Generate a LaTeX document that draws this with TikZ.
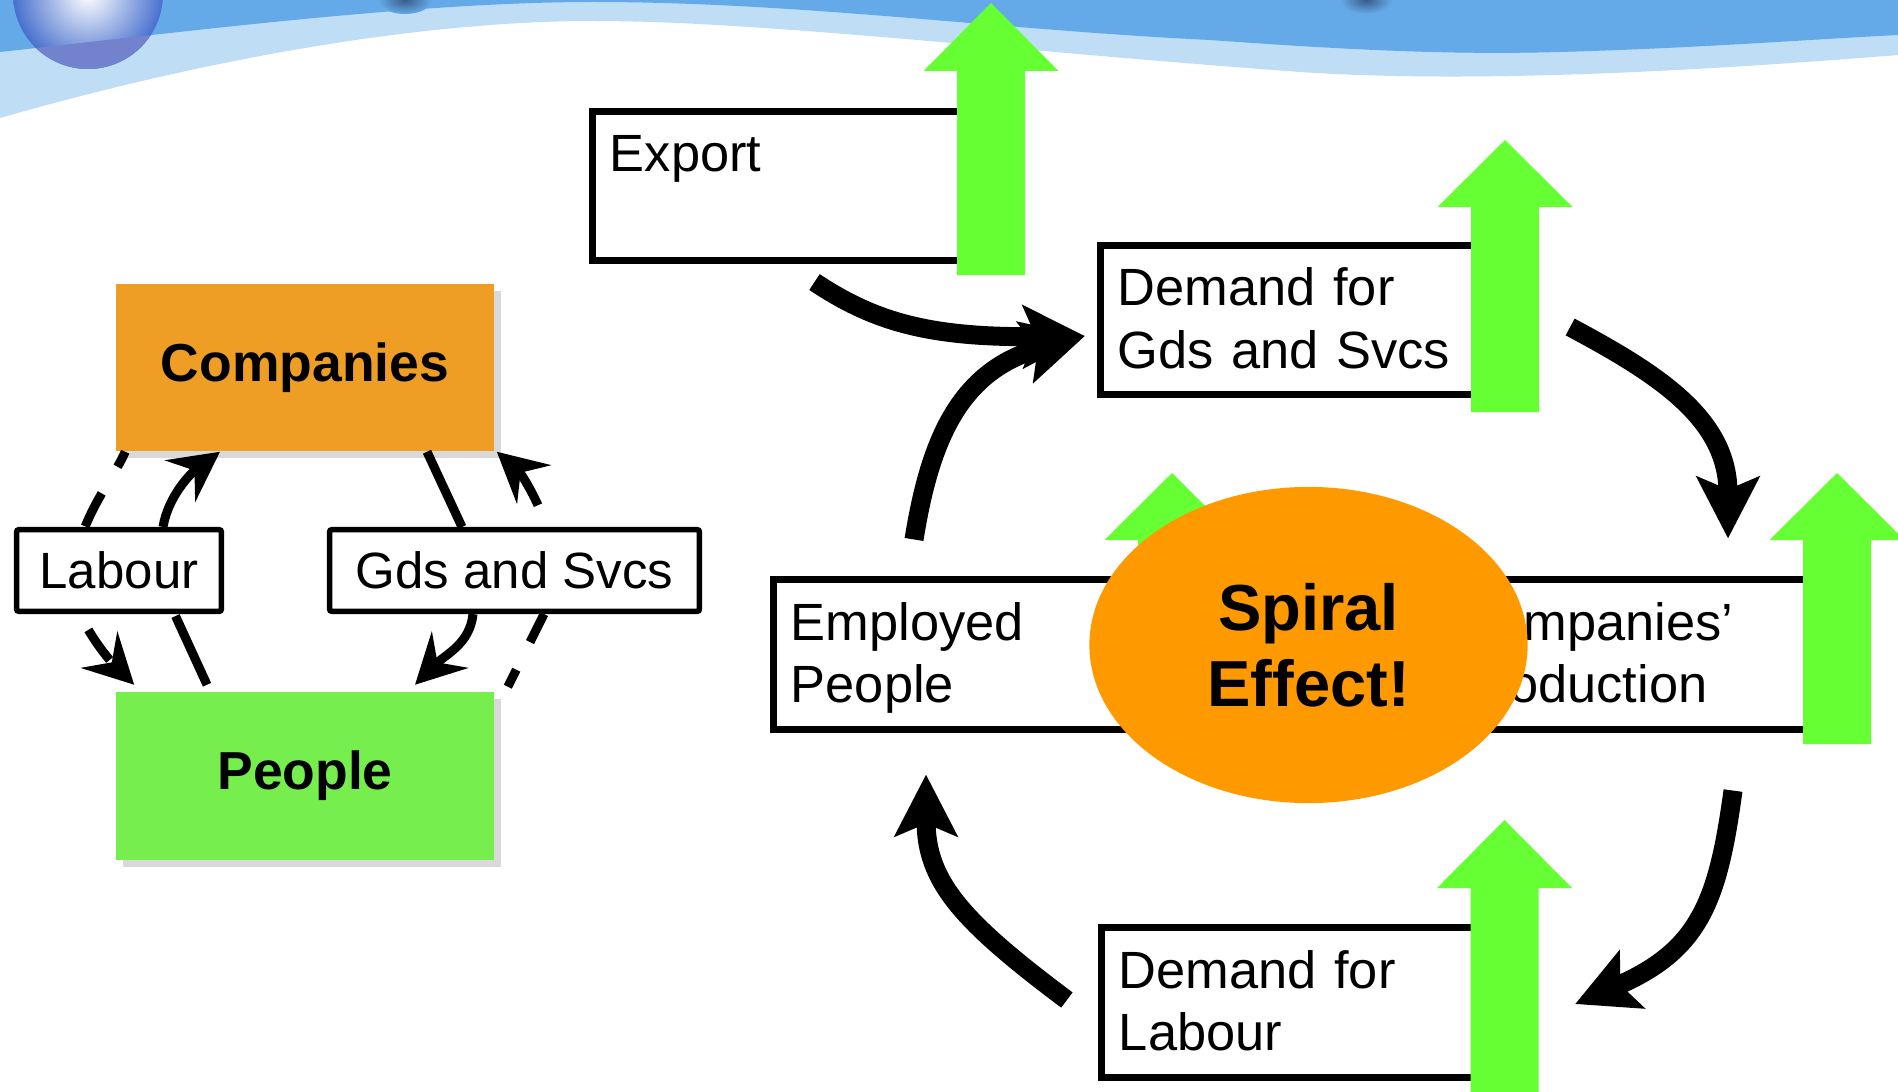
\documentclass[tikz,border=0pt]{standalone}
\usepackage{fontspec}
\setmainfont{Liberation Sans}
\usetikzlibrary{arrows.meta,shapes.geometric,calc,shadows}
\definecolor{bandblue}{RGB}{100,170,232}
\definecolor{bandlight}{RGB}{192,221,246}
\definecolor{orbblue}{RGB}{72,112,206}
\definecolor{orblow}{RGB}{114,130,204}
\definecolor{pinshade}{RGB}{58,92,138}
\definecolor{upgreen}{RGB}{102,255,51}
\definecolor{spiralorange}{RGB}{255,153,0}
\definecolor{compfill}{RGB}{238,158,37}
\definecolor{peopfill}{RGB}{118,238,78}

\begin{document}
\begin{tikzpicture}[x=0.01cm,y=-0.01cm,
    stepbox/.style={draw, line width=0.07cm, fill=white, minimum width=4cm,
      text width=3.65cm, align=left, inner xsep=0.175cm, inner ysep=0pt,
      text height=0.6cm, text depth=0.89cm, font=\fontsize{14.9}{17.9}\selectfont},
    flowbox/.style={draw, line width=0.055cm, fill=white, rounded corners=0.02cm,
      inner sep=0pt, minimum height=0.815cm, font=\fontsize{14.5}{17}\selectfont},
    sector/.style={minimum width=3.78cm, minimum height=1.67cm, inner sep=0pt,
      font=\fontsize{15.2}{18}\selectfont\bfseries,
      drop shadow={shadow xshift=0.07cm, shadow yshift=-0.07cm, fill=black!15, opacity=1}},
    goods/.style={line width=0.09cm},
    money/.style={line width=0.09cm, dash pattern=on 10.5pt off 8.8pt},
    small tip/.style={-{Stealth[length=14pt,width=14.5pt,inset=5pt]}},
    big/.style={line width=0.19cm, -{Stealth[length=17.5pt,width=17.7pt,inset=3.6pt]}},
  ]
  \useasboundingbox (0,0) rectangle (1898,1091);
  \clip (0,0) rectangle (1898,1091);
  \fill[white] (0,0) rectangle (1898,1091);
  % banner
  \fill[bandlight] (0,0) -- (0,118) .. controls (220,55) and (430,21) .. (593,21)
    .. controls (760,21) and (1000,50) .. (1300,72)
    .. controls (1450,82) and (1650,75) .. (1898,55) -- (1898,0) -- cycle;
  \fill[bandblue] (0,0) -- (0,52) .. controls (200,30) and (420,2) .. (593,2)
    .. controls (800,2) and (1000,30) .. (1210,40)
    .. controls (1350,50) and (1450,55) .. (1560,52)
    .. controls (1700,48) and (1800,40) .. (1898,35) -- (1898,0) -- cycle;
  \shade[inner color=white, outer color=orbblue] (88,-6) circle (75);
  \begin{scope}
    \clip (88,-6) circle (75);
    \fill[orblow] (0,52) .. controls (200,30) and (420,2) .. (593,2) -- (593,200) -- (0,200) -- cycle;
  \end{scope}
  \shade[inner color=pinshade, outer color=bandblue] (405,0) ellipse (27 and 14);
  \shade[inner color=pinshade, outer color=bandblue] (1366,0) ellipse (26 and 14);
  %
  % circular flow
  \node[sector, fill=compfill] (comp) at (305,367.5) {Companies};
  \node[sector, fill=peopfill] (peop) at (305,776) {People};
  \node[flowbox, minimum width=2.045cm] (lab) at (119,570.5) {Labour};
  \node[flowbox, minimum width=3.695cm] (gds) at (514.5,570.5) {Gds and Svcs};
  \draw[goods] ($(peop.north)+(-98,-7)$) -- ($(lab.south)+(56.5,2)$);
  \draw[goods, small tip] ($(lab.north)+(44,0)$) .. controls +(5,-30) and +(-30,22) .. ($(comp.south)+(-85,0)$);
  \draw[goods] ($(comp.south)+(122,0)$) -- ($(gds.north)+(-52.5,0)$);
  \draw[goods, small tip] ($(gds.south)+(-41.5,0)$) .. controls +(-3,30) and +(30,-30) .. ($(peop.north)+(110,-7)$);
  \draw[money, dash phase=5.7pt] ($(comp.south west)+(10,0)$) .. controls +(-8,19) and +(13,-32) .. ($(lab.north)+(-34,0)$);
  \draw[money, dash phase=14.2pt, small tip] ($(lab.south)+(-39,0)$) .. controls +(8,18) and +(-30,-30) .. ($(peop.north west)+(19,-7)$);
  \draw[money, dash phase=5.1pt] ($(peop.north east)+(13,-5)$) -- ($(gds.south)+(29.5,0)$);
  \draw[money, dash phase=12.8pt, small tip] ($(gds.north)+(30,0)$) .. controls +(0,-15) and +(25,22) .. ($(comp.south east)+(2,0)$);
  %
  % spiral
  \node[stepbox] (export) at (792.5,186) {Export};
  \node[stepbox] (dgs) at (1300.5,320) {Demand for\\Gds and Svcs};
  \node[stepbox] (emp) at (973.5,654.5) {Employed\\People};
  \node[stepbox] (prod) at (1639.5,654.5) {Companies’\\Production};
  \node[stepbox] (dlab) at (1301.5,1002.5) {Demand for\\Labour};
  \fill[upgreen] (957,275) -- (957,71) -- (923.5,71) -- (991,3) -- (1058.5,71) -- (1025,71) -- (1025,275) -- cycle;
  \fill[upgreen] (1471,412) -- (1471,207) -- (1437.5,207) -- (1505,140) -- (1572.5,207) -- (1539,207) -- (1539,412) -- cycle;
  \fill[upgreen] (1803,744) -- (1803,540) -- (1769.5,540) -- (1837,473) -- (1904.5,540) -- (1871,540) -- (1871,744) -- cycle;
  \fill[upgreen] (1138,720) -- (1138,540) -- (1104.5,540) -- (1172,473) -- (1239.5,540) -- (1206,540) -- (1206,720) -- cycle;
  \fill[upgreen] (1470.5,1100) -- (1470.5,888) -- (1437,888) -- (1504.5,820) -- (1572,888) -- (1538.5,888) -- (1538.5,1100) -- cycle;
  \node[ellipse, fill=spiralorange, minimum width=4.38cm, minimum height=3.16cm, inner sep=0pt,
    align=center, font=\fontsize{18.5}{21.6}\selectfont\bfseries] (spiral) at (1308.5,645) {Spiral\\Effect!};
  \draw[big] ($(export.south)+(22,18)$) .. controls +(60,40) and +(-155,2) .. ($(dgs.west)+(-12,16)$);
  \draw[big] ($(emp.north)+(-59.5,-37)$) .. controls +(16,-100) and +(-125,34) .. ($(dgs.west)+(-12,16)$);
  \draw[big] ($(dgs.east)+(66,7)$) .. controls +(90,48) and +(0,-119) .. ($(prod.north)+(88.5,-38)$);
  \draw[big] ($(prod.south)+(93.5,58)$) .. controls +(-15,110) and +(125,-54) .. ($(dlab.east)+(70,1.5)$);
  \draw[big] ($(dlab.west)+(-31,-2.5)$) .. controls +(-107,-80) and +(0,106) .. ($(emp.south)+(-47.5,42)$);
\end{tikzpicture}
\end{document}
